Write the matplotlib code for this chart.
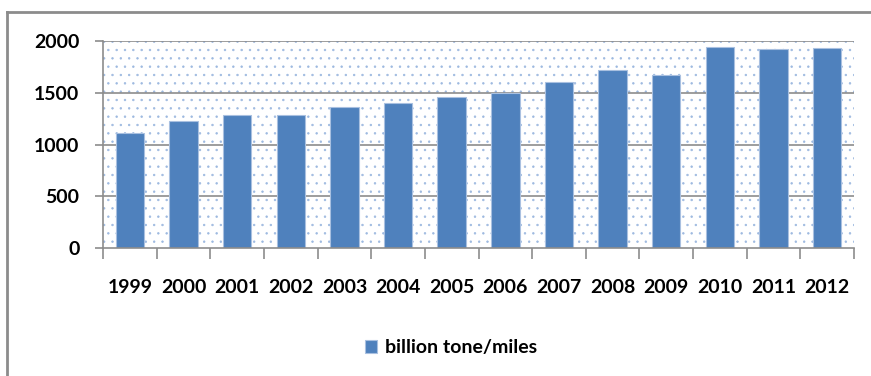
import matplotlib
matplotlib.use('Agg')
import matplotlib.pyplot as plt
from matplotlib.patches import Rectangle
from matplotlib.lines import Line2D

years = ['1999', '2000', '2001', '2002', '2003', '2004', '2005',
         '2006', '2007', '2008', '2009', '2010', '2011', '2012']
tone_miles = [1110, 1225, 1285, 1285, 1362, 1400, 1458,
              1497, 1605, 1720, 1668, 1942, 1920, 1930]
series_name = 'billion tone/miles'

plt.rcParams['font.family'] = ['Lato', 'DejaVu Sans']
plt.rcParams['hatch.linewidth'] = 0.5

bar_color = '#4f81bd'
grid_color = '#8c8c8c'
dot_color = '#9db9e0'

fig = plt.figure(figsize=(8.71, 3.76), dpi=100)
ax = fig.add_axes([103 / 871, 128 / 376, 751 / 871, 207 / 376])

# outer frame of the chart box (left and top edges only)
fig.add_artist(Line2D([7 / 871, 7 / 871], [0, 1 - 12 / 376],
                      transform=fig.transFigure, color=grid_color, lw=2))
fig.add_artist(Line2D([7 / 871, 1], [1 - 12 / 376, 1 - 12 / 376],
                      transform=fig.transFigure, color=grid_color, lw=2))

x = range(len(years))
ax.set_xlim(-0.5, len(years) - 0.5)
ax.set_ylim(0, 2000)

# dotted plot-area fill
ax.add_patch(Rectangle((0, 0), 1, 1, transform=ax.transAxes,
                       facecolor='white', edgecolor=dot_color, linewidth=0,
                       hatch='..', zorder=0))

for yv in [500, 1000, 1500, 2000]:
    ax.axhline(yv, color=grid_color, lw=1.2, zorder=1)

bars = ax.bar(x, tone_miles, width=0.53, color=bar_color,
              edgecolor='#a9c0e0', linewidth=0.8, zorder=2, label=series_name)

for side in ['top', 'right']:
    ax.spines[side].set_visible(False)
for side in ['left', 'bottom']:
    ax.spines[side].set_color(grid_color)
    ax.spines[side].set_linewidth(1.2)

ax.set_yticks([0, 500, 1000, 1500, 2000])
ax.set_yticklabels(['0', '500', '1000', '1500', '2000'],
                   fontsize=14, fontweight='bold')
ax.tick_params(axis='y', length=6, color=grid_color, width=1.2, pad=11)

ax.set_xticks([i - 0.5 for i in range(len(years) + 1)], minor=False)
ax.set_xticklabels([])
ax.tick_params(axis='x', which='major', length=8, color=grid_color, width=1.2)
ax.set_xticks(list(x), minor=True)
ax.set_xticklabels(years, minor=True, fontsize=14, fontweight='bold')
ax.tick_params(axis='x', which='minor', length=0, pad=22)

fig.legend(handles=[bars], labels=[series_name], loc='center',
           bbox_to_anchor=(451 / 871, 1 - 348 / 376), frameon=False,
           prop={'size': 14, 'weight': 'bold'}, handlelength=0.6,
           handleheight=0.6, handletextpad=0.4)

fig.savefig('out.png', dpi=100)
